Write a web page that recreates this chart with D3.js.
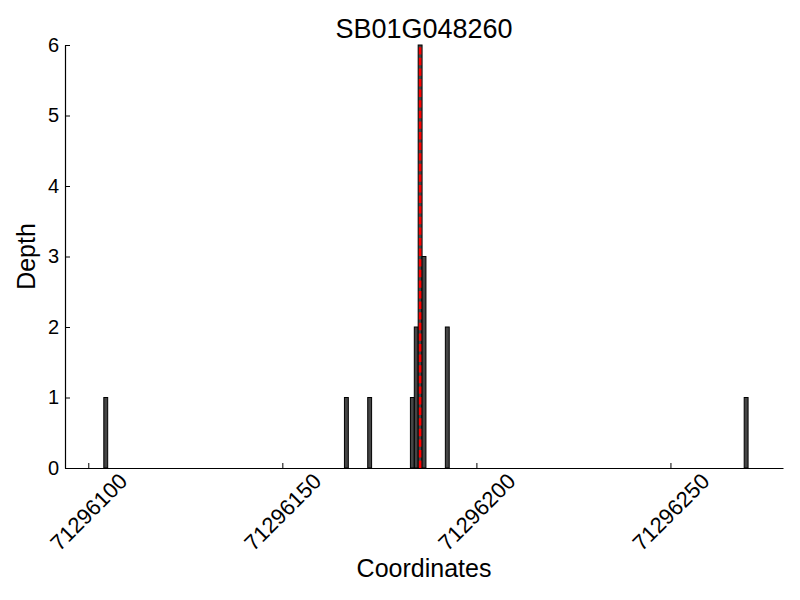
<!DOCTYPE html>
<html>

<head>
  <title>SB01G048260 depth</title>
  <style>
    body { margin: 0; background: #fff; }
    text { font-family: "Liberation Sans", Arial, sans-serif; fill: #000; }
  </style>
</head>

<body>
  <svg id="svg"></svg>

  <script src="https://d3js.org/d3.v7.min.js"></script>
  <script>
    let positions = [71296104, 71296166, 71296172, 71296183, 71296184, 71296185, 71296186, 71296192, 71296269];
    let depths = [1, 1, 1, 1, 2, 6, 3, 2, 1];
    let xTicks = [71296100, 71296150, 71296200, 71296250];
    let yTicks = [0, 1, 2, 3, 4, 5, 6];
    let xLimits = [71296094, 71296279];
    let yLimits = [0, 6];
    let peakPos = 71296185;
    let title = "SB01G048260";

    let width = 800, height = 600;
    let margin = { top: 45, right: 17, bottom: 132, left: 65 };

    let data = positions.map((p, i) => ({ pos: p, depth: depths[i] }));

    let svg = d3.select("#svg")
      .attr("width", width)
      .attr("height", height);

    let x = d3.scaleLinear().domain(xLimits).range([margin.left, width - margin.right]);
    let y = d3.scaleLinear().domain(yLimits).range([height - margin.bottom, margin.top]);

    // bars, one coordinate unit wide
    svg.append("g")
      .selectAll("rect")
      .data(data)
      .join("rect")
      .attr("x", d => x(d.pos))
      .attr("y", d => y(d.depth))
      .attr("width", d => x(d.pos + 1) - x(d.pos))
      .attr("height", d => y(0) - y(d.depth))
      .attr("fill", "#454545")
      .attr("stroke", "#000")
      .attr("stroke-width", 1);

    // red dashed marker through the peak
    svg.append("line")
      .attr("x1", x(peakPos + 0.5))
      .attr("x2", x(peakPos + 0.5))
      .attr("y1", y(yLimits[0]))
      .attr("y2", y(yLimits[1]))
      .attr("stroke", "red")
      .attr("stroke-width", 2.5)
      .attr("stroke-dasharray", "7.4,3.2");

    // axes, ticks point inward
    let xAxis = svg.append("g")
      .attr("transform", `translate(0, ${y(0)})`)
      .call(d3.axisBottom(x).tickValues(xTicks).tickSize(-5).tickSizeOuter(0).tickFormat(d3.format("d")));

    xAxis.selectAll("text")
      .style("font-size", "22px")
      .attr("text-anchor", "middle")
      .attr("dominant-baseline", "central")
      .attr("x", 0)
      .attr("y", 0)
      .attr("dy", null)
      .attr("transform", "translate(0, 44) rotate(-45)");

    let yAxis = svg.append("g")
      .attr("transform", `translate(${x(xLimits[0])}, 0)`)
      .call(d3.axisLeft(y).tickValues(yTicks).tickSize(-5).tickSizeOuter(0).tickPadding(6).tickFormat(d3.format("d")));

    yAxis.selectAll("text").style("font-size", "20px");

    svg.selectAll(".domain").attr("stroke", "#000").attr("stroke-width", 1.2);
    svg.selectAll(".tick line").attr("stroke", "#000");

    // labels
    svg.append("text")
      .attr("x", (x.range()[0] + x.range()[1]) / 2)
      .attr("y", 38)
      .attr("text-anchor", "middle")
      .attr("font-size", 27)
      .text(title);

    svg.append("text")
      .attr("x", (x.range()[0] + x.range()[1]) / 2)
      .attr("y", 577)
      .attr("text-anchor", "middle")
      .attr("font-size", 25)
      .text("Coordinates");

    svg.append("text")
      .attr("transform", `translate(35, ${(y.range()[0] + y.range()[1]) / 2}) rotate(-90)`)
      .attr("text-anchor", "middle")
      .attr("font-size", 25)
      .text("Depth");

  </script>
</body>

</html>
